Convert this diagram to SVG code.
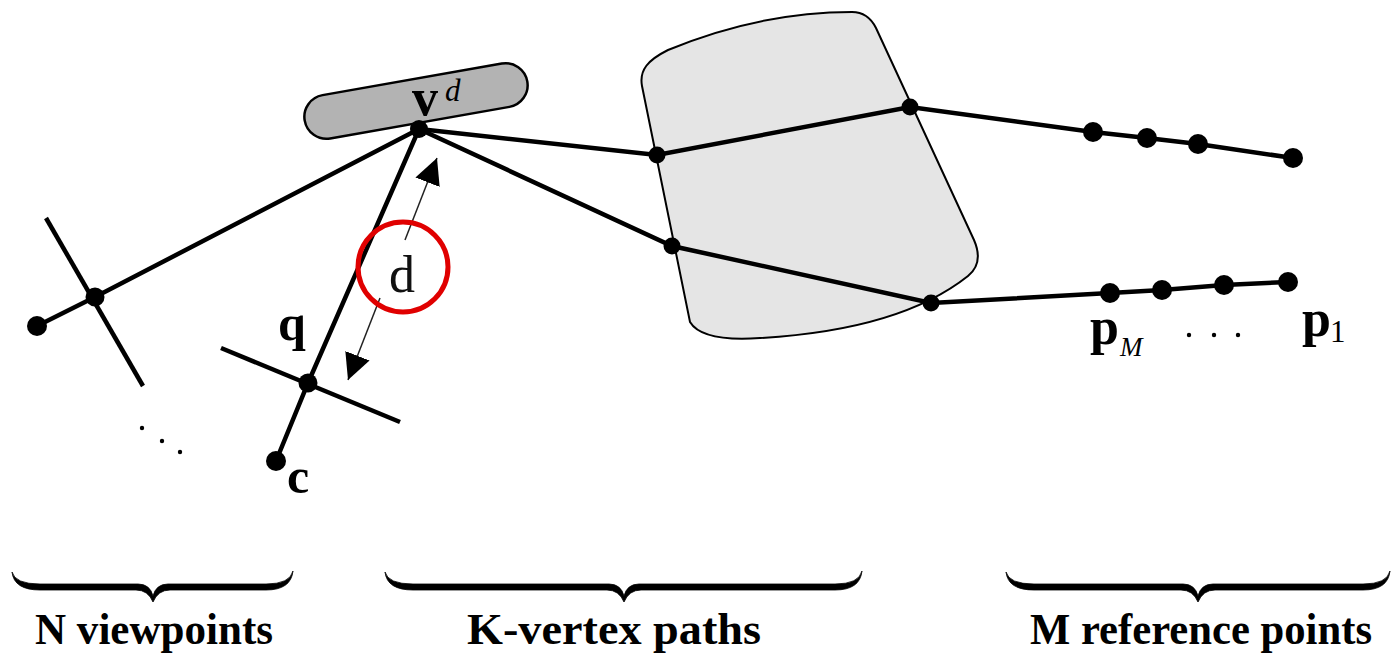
<svg xmlns="http://www.w3.org/2000/svg" width="1396" height="656" viewBox="0 0 1396 656">
  <style>
    .edge { stroke: #000; stroke-width: 4.5; fill: none; stroke-linecap: round; }
    .tick { stroke: #000; stroke-width: 4.5; fill: none; }
    .dot { fill: #000; }
    .math { font-family: "Liberation Serif", "Times New Roman", serif; font-weight: bold; fill: #000; }
    .ital { font-family: "Liberation Serif", "Times New Roman", serif; font-style: italic; fill: #000; }
    .caption { font-family: "Liberation Serif", "Times New Roman", serif; font-weight: bold; font-size: 44px; fill: #000; text-anchor: middle; }
    .brace { fill: #000; stroke: #000; stroke-width: 0.8; stroke-linejoin: round; }
    .measure { stroke: #222; stroke-width: 1.5; fill: none; }
  </style>
  <defs>
    <marker id="head" viewBox="0 0 10 10" refX="10" refY="5" markerWidth="26" markerHeight="26" markerUnits="userSpaceOnUse" orient="auto">
      <path d="M0,0 L10,5 L0,10 Z" fill="#000"/>
    </marker>
  </defs>

  <rect width="1396" height="656" fill="#fff"/>

  <!-- occluding volume -->
  <g id="volume">
    <path d="M642,86 C639,70 648,60 668,50 Q760,12 852,12 Q868,12 876,28 L974,240 Q984,263 968,276 Q900,330 760,338 Q702,342 690,322 Z" fill="#e5e5e5" stroke="#000" stroke-width="2"/>
  </g>

  <!-- virtual viewpoint capsule -->
  <g id="vd-capsule">
    <rect x="-113" y="-22" width="226" height="44" rx="22" transform="translate(416,101) rotate(-10)" fill="#b3b3b3" stroke="#000" stroke-width="2.5"/>
  </g>

  <g id="connectors">
    <!-- rays from v^d -->
    <path class="edge" d="M37,326 L95,297 L419,129"/>
    <path class="edge" d="M276,461 L308,383 L419,129"/>
    <path class="edge" d="M419,129 L657,155 L910,107 L1093,132 L1147,138 L1198,144 L1293,158"/>
    <path class="edge" d="M419,129 L672,246 L931,303 L1110,293 L1162,290 L1224,285 L1288,282"/>
    <!-- image planes -->
    <path class="tick" d="M46,218 L143,386"/>
    <path class="tick" d="M221,348 L400,422"/>
    <!-- distance d -->
    <path class="measure" d="M405,240 L437,158" marker-end="url(#head)"/>
    <path class="measure" d="M380,298 L348,380" marker-end="url(#head)"/>
  </g>

  <g id="viewpoint-left">
    <circle class="dot" cx="95" cy="297" r="9.5"/>
    <circle class="dot" cx="37" cy="326" r="10"/>
  </g>

  <g id="viewpoint-q">
    <circle class="dot" cx="308" cy="383" r="9.5"/>
    <circle class="dot" cx="276" cy="461" r="10"/>
    <text class="math" x="292" y="340" font-size="50" text-anchor="middle">q</text>
    <text class="math" x="298" y="493" font-size="50" text-anchor="middle">c</text>
  </g>

  <g id="viewpoint-dots">
    <circle class="dot" cx="142" cy="428" r="2.2"/>
    <circle class="dot" cx="162" cy="441" r="2.2"/>
    <circle class="dot" cx="180" cy="452" r="2.2"/>
  </g>

  <g id="vd">
    <circle class="dot" cx="419" cy="129" r="9"/>
    <text class="math" x="425" y="115" font-size="52" text-anchor="middle">v</text>
    <text class="ital" x="445" y="101" font-size="31">d</text>
  </g>

  <g id="d-label">
    <circle cx="403" cy="267" r="45" fill="none" stroke="#e00000" stroke-width="5"/>
    <text x="402" y="292" font-family="Liberation Serif, Times New Roman, serif" font-size="52" fill="#111" text-anchor="middle">d</text>
  </g>

  <g id="path-vertices">
    <circle class="dot" cx="657" cy="155" r="8.5"/>
    <circle class="dot" cx="910" cy="107" r="8.5"/>
    <circle class="dot" cx="672" cy="246" r="8.5"/>
    <circle class="dot" cx="931" cy="303" r="8.5"/>
  </g>

  <g id="reference-points">
    <circle class="dot" cx="1093" cy="132" r="10"/>
    <circle class="dot" cx="1147" cy="138" r="10"/>
    <circle class="dot" cx="1198" cy="144" r="10"/>
    <circle class="dot" cx="1293" cy="158" r="10"/>
    <circle class="dot" cx="1110" cy="293" r="10"/>
    <circle class="dot" cx="1162" cy="290" r="10"/>
    <circle class="dot" cx="1224" cy="285" r="10"/>
    <circle class="dot" cx="1288" cy="282" r="10"/>
    <text class="math" x="1090" y="344" font-size="52">p</text>
    <text class="ital" x="1120" y="356" font-size="27">M</text>
    <circle class="dot" cx="1189" cy="335" r="2.2"/>
    <circle class="dot" cx="1214" cy="335" r="2.2"/>
    <circle class="dot" cx="1238" cy="335" r="2.2"/>
    <text class="math" x="1302" y="336" font-size="52">p</text>
    <text x="1330" y="342" font-family="Liberation Serif, Times New Roman, serif" font-size="31" fill="#000">1</text>
  </g>

  <!-- underbraces drawn as filled outlines: thick bar, tapered ends, pointed middle -->
  <g id="brace-viewpoints">
    <path class="brace" d="M12,572 Q15,584 40,584 L138,584 Q150,584 153,596 Q156,584 168,584 L266,584 Q290,584 293,571 Q291,590 266,590 L170,590 Q158,590 153,602 Q148,590 136,590 L40,590 Q14,590 12,572 Z"/>
    <text class="caption" x="154" y="644" textLength="238" lengthAdjust="spacingAndGlyphs">N viewpoints</text>
  </g>

  <g id="brace-paths">
    <path class="brace" d="M385,572 Q388,584 413,584 L609,584 Q621,584 624,596 Q627,584 639,584 L835,584 Q859,584 862,571 Q860,590 835,590 L641,590 Q629,590 624,602 Q619,590 607,590 L413,590 Q387,590 385,572 Z"/>
    <text class="caption" x="614" y="644" textLength="294" lengthAdjust="spacingAndGlyphs">K-vertex paths</text>
  </g>

  <g id="brace-references">
    <path class="brace" d="M1006,572 Q1009,584 1034,584 L1183,584 Q1195,584 1198,596 Q1201,584 1213,584 L1363,584 Q1387,584 1390,571 Q1388,590 1363,590 L1215,590 Q1203,590 1198,602 Q1193,590 1181,590 L1034,590 Q1008,590 1006,572 Z"/>
    <text class="caption" x="1201" y="644" textLength="342" lengthAdjust="spacingAndGlyphs">M reference points</text>
  </g>
</svg>
